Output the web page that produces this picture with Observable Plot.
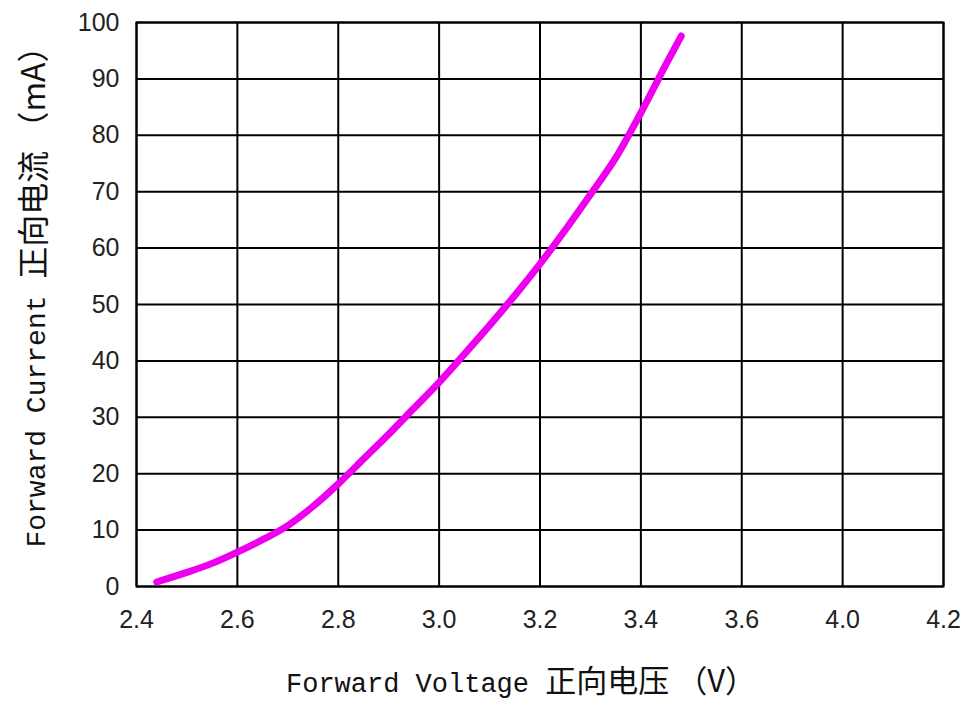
<!DOCTYPE html>
<html>
<head>
<meta charset="utf-8">
<script src="https://cdn.jsdelivr.net/npm/d3@7"></script>
<script src="https://cdn.jsdelivr.net/npm/@observablehq/plot@0.6"></script>
<style>
  html, body { margin: 0; padding: 0; background: #fff; }
  #chart svg { display: block; }
</style>
</head>
<body>
<div id="chart"></div>
<script>
// Forward voltage (V) vs forward current (mA)
const voltage = [2.44, 2.50, 2.55, 2.60, 2.65, 2.70, 2.75, 2.80, 2.85, 2.90, 2.95, 3.00, 3.05, 3.10, 3.15, 3.20, 3.25, 3.30, 3.35, 3.40, 3.45, 3.48];
const current = [0.8, 2.5, 4.1, 6.1, 8.3, 10.8, 14.2, 18.2, 22.6, 27.0, 31.6, 36.2, 41.2, 46.3, 51.6, 57.2, 63.2, 69.5, 76.0, 84.0, 92.6, 97.6];
// grid positions are evenly spaced; the reference's labels skip 3.8
const xTicks = [2.4, 2.6, 2.8, 3.0, 3.2, 3.4, 3.6, 3.8, 4.0];
const xTickLabels = ["2.4", "2.6", "2.8", "3.0", "3.2", "3.4", "3.6", "4.0", "4.2"];
const yTicks = [0, 10, 20, 30, 40, 50, 60, 70, 80, 90, 100];
const xLabelLatin = "Forward Voltage ";
const xLabelCJK = "正向电压 （V）";
const yLabelLatin = "Forward Current ";
const yLabelCJK = "正向电流 （mA）";

const data = voltage.map((v, i) => ({v, i: current[i]}));
const fmtX = (d) => xTickLabels[xTicks.findIndex(t => Math.abs(t - d) < 1e-9)];

const chart = Plot.plot({
  width: 963,
  height: 704,
  marginLeft: 136,
  marginRight: 20,
  marginTop: 22,
  marginBottom: 118,
  style: {fontFamily: "'Liberation Sans', Arial, sans-serif", fontSize: "25px", color: "#222", background: "#fff"},
  x: {domain: [2.4, 4.0], label: null},
  y: {domain: [0, 100], label: null},
  marks: [
    Plot.gridX(xTicks, {stroke: "#000", strokeOpacity: 1, strokeWidth: 2}),
    Plot.gridY(yTicks, {stroke: "#000", strokeOpacity: 1, strokeWidth: 2}),
    Plot.frame({stroke: "#000", strokeWidth: 2}),
    Plot.line(data, {x: "v", y: "i", stroke: "#ee00ee", strokeWidth: 7, curve: "catmull-rom"}),
    Plot.axisX({ticks: xTicks, tickFormat: fmtX, tickSize: 0, tickPadding: 24, label: null}),
    Plot.axisY({ticks: yTicks, tickSize: 0, tickPadding: 17, label: null})
  ]
});

document.getElementById("chart").appendChild(chart);

const svg = d3.select(chart);
// x-axis label
const xt = svg.append("text")
  .attr("x", 521)
  .attr("y", 692)
  .attr("text-anchor", "middle")
  .attr("fill", "#111")
  .attr("font-family", "'Liberation Mono', 'DejaVu Sans Mono', monospace")
  .attr("font-size", 27);
xt.append("tspan").text(xLabelLatin);
xt.append("tspan")
  .attr("font-family", "'Noto Sans CJK SC', sans-serif")
  .attr("font-size", 31)
  .text(xLabelCJK);

// y-axis label
const yt = svg.append("text")
  .attr("transform", "translate(45,289) rotate(-90)")
  .attr("text-anchor", "middle")
  .attr("fill", "#111")
  .attr("font-family", "'Liberation Mono', 'DejaVu Sans Mono', monospace")
  .attr("font-size", 28);
yt.append("tspan").text(yLabelLatin);
yt.append("tspan")
  .attr("font-family", "'Noto Sans CJK SC', sans-serif")
  .attr("font-size", 32)
  .text(yLabelCJK);
</script>
</body>
</html>
